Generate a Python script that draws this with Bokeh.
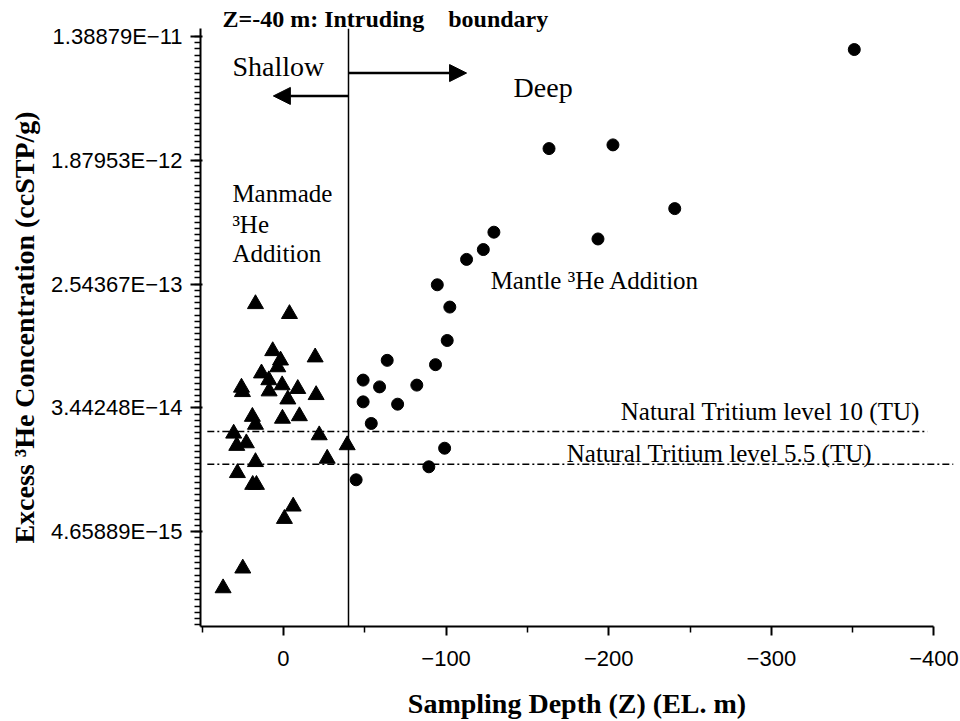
import numpy as np
from bokeh.plotting import figure
from bokeh.models import Range1d, FixedTicker, Span, Arrow, NormalHead, CustomJSTickFormatter
from bokeh.core.properties import value
from bokeh.embed import file_html
from bokeh.resources import INLINE

# ---------------- data ----------------
# Shallow samples (triangles): sampling depth (EL. m) and excess 3He (ccSTP/g)
shallow_depth = [17.2, -3.7, 6.6, 1.8, 3.5, -19.5, 13.5, 9.0, 25.8, 25.2, 0.8,
                 -8.8, 8.8, -20.1, -2.7, 19.1, 17.2, 0.6, -9.8, 30.6, -22.0,
                 28.7, 22.8, -39.2, 17.2, -26.9, 28.3, 18.9, 16.6, -6.0, -0.6,
                 25.0, 37.1]
shallow_he3 = [1.847e-13, 1.574e-13, 8.64e-14, 7.43e-14, 6.66e-14, 7.81e-14,
               6.03e-14, 5.40e-14, 4.79e-14, 4.46e-14, 4.98e-14, 4.69e-14,
               4.51e-14, 4.25e-14, 3.96e-14, 2.99e-14, 2.63e-14, 2.90e-14,
               3.02e-14, 2.28e-14, 2.22e-14, 1.87e-14, 1.95e-14, 1.89e-14,
               1.44e-14, 1.52e-14, 1.205e-14, 9.96e-15, 9.96e-15, 7.02e-15,
               5.75e-15, 2.58e-15, 1.875e-15]

# Deep samples (circles)
deep_depth = [-44.7, -49.0, -49.0, -54.0, -59.1, -63.8, -70.2, -82.0, -89.4,
              -93.5, -94.6, -99.1, -100.7, -102.3, -112.6, -122.9, -129.4,
              -163.3, -193.4, -202.6, -240.6, -351.0]
deep_he3 = [1.079e-14, 5.40e-14, 3.80e-14, 2.68e-14, 4.84e-14, 7.43e-14,
            3.66e-14, 4.98e-14, 1.331e-14, 6.93e-14, 2.518e-13, 1.797e-14,
            1.024e-13, 1.757e-13, 3.795e-13, 4.45e-13, 5.89e-13, 2.273e-12,
            5.28e-13, 2.413e-12, 8.62e-13, 1.126e-11]

# Natural tritium reference levels
tritium_labels = ["Natural Tritium level 10 (TU)", "Natural Tritium level 5.5 (TU)"]
tritium_he3 = [2.354e-14, 1.386e-14]
tritium_x_start = [46.8, 46.8]
tritium_x_end = [-396.0, -412.0]

# Intruding boundary depth
boundary_depth = -40

# Tick labels
x_tick_values = [0, -100, -200, -300, -400]
x_tick_labels = ["0", "\u2212100", "\u2212200", "\u2212300", "\u2212400"]
x_minor_ticks = [50, -50, -150, -250, -350]
y_tick_values = [1.38879e-11, 1.87953e-12, 2.54367e-13, 3.44248e-14, 4.65889e-15]
y_tick_labels = ["1.38879E\u221211", "1.87953E\u221212", "2.54367E\u221213",
                 "3.44248E\u221214", "4.65889E\u221215"]

# ---------------- figure ----------------
p = figure(width=960, height=721, output_backend="svg", toolbar_location=None,
           x_range=Range1d(51, -412),
           y_range=Range1d(float(np.exp(-34.53)), float(np.exp(-24.87))),
           y_axis_type="log",
           min_border_left=200, min_border_right=7,
           min_border_top=28, min_border_bottom=94)
p.outline_line_color = None
p.xgrid.visible = False
p.ygrid.visible = False

p.title.text = "Z=-40 m: Intruding\u00a0\u00a0\u00a0 boundary"
p.title.text_font = "Liberation Serif"
p.title.text_font_style = "bold"
p.title.text_font_size = "24px"
p.title.align = "left"
p.title.offset = 22
p.title.standoff = -7
p.title.text_color = "black"

# x axis
p.xaxis.ticker = FixedTicker(ticks=x_tick_values, minor_ticks=x_minor_ticks)
p.xaxis.major_label_overrides = dict(zip(x_tick_values, x_tick_labels))
p.xaxis.bounds = (-400, 51)
p.xaxis.axis_label = "Sampling Depth (Z) (EL. m)"
p.xaxis.major_label_standoff = 15
p.xaxis.axis_label_standoff = 19

# y axis: labeled ticks at odd ln-units, dense minor ticks every 0.1 ln-unit
minor = [float(np.exp(v)) for v in np.arange(-34.5, -24.99, 0.1)]
p.yaxis.ticker = FixedTicker(ticks=y_tick_values, minor_ticks=minor)
p.yaxis.formatter = CustomJSTickFormatter(
    args=dict(vals=y_tick_values, labs=y_tick_labels),
    code="""
    for (let i = 0; i < vals.length; i++) {
        if (Math.abs(vals[i] - tick) <= 1e-4 * vals[i]) { return labs[i]; }
    }
    return "";
    """)
p.yaxis.axis_label = "Excess \u00b3He Concentration (ccSTP/g)"
p.yaxis.major_label_standoff = 8
p.yaxis.axis_label_standoff = 8

for axes in (p.xaxis, p.yaxis):
    axes.axis_line_width = 2
    axes.axis_line_color = "black"
    axes.major_tick_line_width = 2
    axes.minor_tick_line_width = 1.5
    axes.major_tick_line_color = "black"
    axes.minor_tick_line_color = "black"
    axes.major_tick_out = 10
    axes.minor_tick_out = 6
    axes.major_label_text_font = "Liberation Sans"
    axes.major_label_text_font_size = "22px"
    axes.major_label_text_color = "black"
    axes.axis_label_text_font = "Liberation Serif"
    axes.axis_label_text_font_style = "bold"
    axes.axis_label_text_font_size = "28px"
    axes.axis_label_text_color = "black"
p.xaxis.major_tick_in = 0
p.xaxis.minor_tick_in = 0
p.xaxis.major_tick_out = 9

# boundary line
p.add_layout(Span(location=boundary_depth, dimension="height",
                  line_color="black", line_width=1.5))

# tritium levels
p.segment(x0=tritium_x_start, y0=tritium_he3, x1=tritium_x_end, y1=tritium_he3,
          line_color="black", line_width=1.5, line_dash="7 3 2 3")

# data points
p.scatter(shallow_depth, shallow_he3, marker="triangle", size=16,
          fill_color="black", line_color="black")
p.scatter(deep_depth, deep_he3, marker="circle", size=12,
          fill_color="black", line_color="black")

# arrows
p.add_layout(Arrow(end=NormalHead(size=17, fill_color="black", line_color="black"),
                   x_start=boundary_depth, y_start=7.70e-12,
                   x_end=-112.6, y_end=7.70e-12,
                   line_width=2.5, line_color="black"))
p.add_layout(Arrow(end=NormalHead(size=17, fill_color="black", line_color="black"),
                   x_start=boundary_depth, y_start=5.32e-12,
                   x_end=6.2, y_end=5.32e-12,
                   line_width=2.5, line_color="black"))

serif = value("Liberation Serif")
p.text(x=[31.4, -141.5], y=[8.55e-12, 6.05e-12], text=["Shallow", "Deep"],
       text_font=serif, text_font_size="28px", text_color="black",
       text_align="left", text_baseline="alphabetic")
p.text(x=[31.4, 31.4, 31.4, -127.4],
       y=[1.10e-12, 6.70e-13, 4.16e-13, 2.68e-13],
       text=["Manmade", "\u00b3He", "Addition", "Mantle \u00b3He Addition"],
       text_font=serif, text_font_size="25px", text_color="black",
       text_align="left", text_baseline="alphabetic")
p.text(x=[-207.4, -174.2], y=[3.25e-14, 1.66e-14], text=tritium_labels,
       text_font=serif, text_font_size="25px", text_color="black",
       text_align="left", text_baseline="alphabetic")

open("out.html", "w").write(file_html(p, INLINE))
